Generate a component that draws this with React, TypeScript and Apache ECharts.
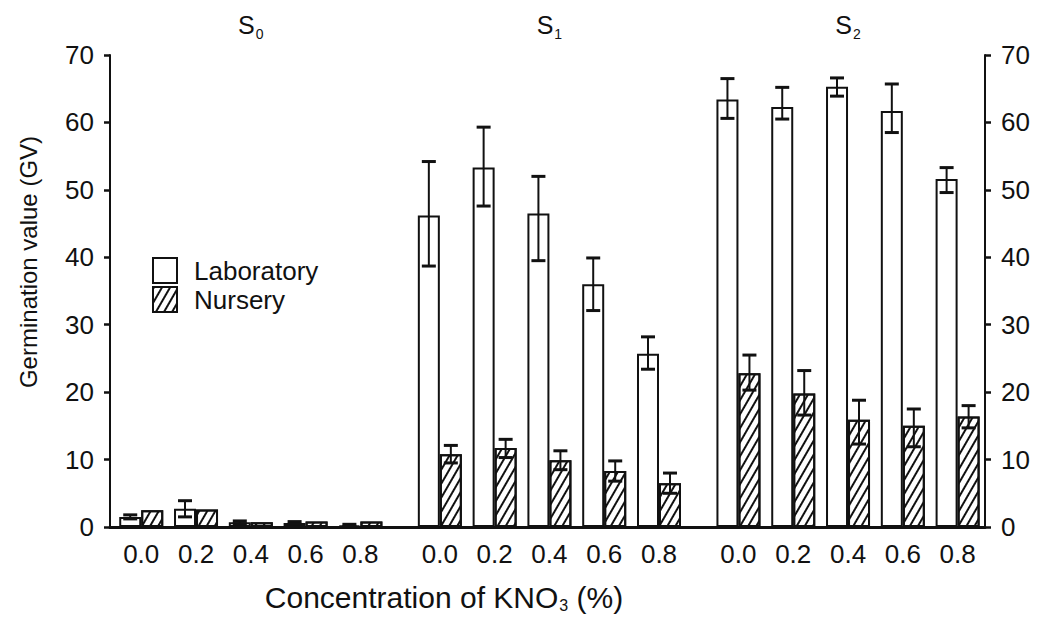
import React, { useEffect, useRef } from "react";
import * as echarts from "echarts";

// ---- data ----
const concentrations = ["0.0", "0.2", "0.4", "0.6", "0.8"];
const sowings = ["0", "1", "2"]; // S0, S1, S2 subscripts

const labMean = [1.5, 2.7, 0.7, 0.6, 0.25, 46.2, 53.3, 46.5, 36.0, 25.7, 63.4, 62.3, 65.3, 61.7, 51.6];
const labLow = [1.2, 1.5, 0.5, 0.4, 0.1, 38.7, 47.6, 39.5, 32.1, 23.4, 60.6, 60.5, 63.9, 58.5, 49.6];
const labHigh = [1.8, 3.9, 0.9, 0.8, 0.4, 54.2, 59.3, 52.0, 39.9, 28.2, 66.5, 65.2, 66.6, 65.7, 53.3];

const nurMean = [2.5, 2.6, 0.7, 0.8, 0.8, 10.8, 11.7, 9.9, 8.3, 6.5, 22.8, 19.8, 15.9, 15.0, 16.4];
const nurLow = [2.5, 2.6, 0.7, 0.8, 0.8, 9.5, 10.3, 8.5, 6.8, 5.0, 20.3, 16.6, 12.3, 11.9, 14.7];
const nurHigh = [2.5, 2.6, 0.7, 0.8, 0.8, 12.1, 13.0, 11.3, 9.8, 8.0, 25.5, 23.2, 18.8, 17.5, 18.0];

// ---- layout helpers (positions on the x value scale) ----
const GROUP_STEP = 5.45; // slots between the starts of successive sowing groups
const pos: number[] = [];
const posLabel: Record<string, string> = {};
sowings.forEach((_, g) => {
  concentrations.forEach((c, i) => {
    const p = +(g * GROUP_STEP + i).toFixed(3);
    pos.push(p);
    posLabel[p.toFixed(3)] = c;
  });
});
const groupCenters = sowings.map((_, g) => +(g * GROUP_STEP + 2).toFixed(3));
const groupLabel: Record<string, string> = {};
groupCenters.forEach((p, g) => (groupLabel[p.toFixed(3)] = sowings[g]));

const FONT = "'Liberation Sans', Arial, Helvetica, sans-serif";
const INK = "#111";
const BAR_W = 22;
const X_MIN = -0.57;
const X_MAX = 15.4;

export default function App() {
  const ref = useRef<HTMLDivElement>(null);
  useEffect(() => {
    if (!ref.current) return;
    const chart = echarts.init(ref.current, undefined, { renderer: "svg" });

    const errData: number[][] = [];
    pos.forEach((p, k) => {
      if (labHigh[k] > labLow[k]) errData.push([p, labLow[k], labHigh[k], -1]);
      if (nurHigh[k] > nurLow[k]) errData.push([p, nurLow[k], nurHigh[k], 1]);
    });

    const yAxisCommon = {
      type: "value" as const,
      min: 0,
      max: 70,
      interval: 10,
      splitLine: { show: false },
      axisLine: { show: true, onZero: false, lineStyle: { color: INK, width: 2 } },
      axisTick: { show: true, inside: false, length: 6, lineStyle: { color: INK, width: 2.5 } },
      axisLabel: { color: INK, fontSize: 26, fontFamily: FONT, margin: 16 },
    };

    const option: any = {
      animation: false,
      backgroundColor: "#fff",
      textStyle: { fontFamily: FONT },
      grid: { left: 110, right: 63, top: 55, bottom: 101, containLabel: false },
      title: {
        text: "Concentration of KNO{sub|3} (%)",
        left: 439,
        top: 576,
        textAlign: "center",
        textStyle: {
          color: INK,
          fontSize: 30,
          fontWeight: "normal",
          fontFamily: FONT,
          rich: {
            sub: { fontSize: 16, fontFamily: FONT, color: INK, verticalAlign: "bottom", padding: [16, 0, 0, 1] },
          },
        },
      },
      legend: {
        orient: "vertical",
        left: 147,
        top: 252,
        itemWidth: 24,
        itemHeight: 25,
        itemGap: 2,
        icon: "rect",
        textStyle: { color: INK, fontSize: 26, lineHeight: 25, fontFamily: FONT, padding: [0, 0, 0, 12] },
        data: ["Laboratory", "Nursery"],
      },
      xAxis: [
        {
          type: "value",
          position: "bottom",
          min: X_MIN,
          max: X_MAX,
          splitLine: { show: false },
          axisLine: { show: true, onZero: false, lineStyle: { color: INK, width: 3 } },
          axisTick: { show: false },
          axisLabel: {
            customValues: pos,
            color: INK,
            fontSize: 26,
            fontFamily: FONT,
            margin: 14,
            formatter: (v: number) => posLabel[(+v).toFixed(3)] ?? "",
          },
        },
        {
          type: "value",
          position: "top",
          min: X_MIN,
          max: X_MAX,
          splitLine: { show: false },
          axisLine: { show: false },
          axisTick: { show: false },
          axisLabel: {
            customValues: groupCenters,
            margin: 14,
            formatter: (v: number) => `{s|S}{sub|${groupLabel[(+v).toFixed(3)] ?? ""}}`,
            rich: {
              s: { fontSize: 25, fontFamily: FONT, color: INK },
              sub: { fontSize: 14, fontFamily: FONT, color: INK, verticalAlign: "bottom", padding: [18, 0, 0, 1] },
            },
          },
        },
      ],
      yAxis: [
        {
          ...yAxisCommon,
          position: "left",
          name: "Germination value (GV)",
          nameLocation: "middle",
          nameGap: 70,
          nameTextStyle: { color: INK, fontSize: 24, fontFamily: FONT, padding: [0, 0, 0, 58] },
        },
        { ...yAxisCommon, position: "right" },
      ],
      series: [
        {
          name: "Laboratory",
          type: "bar",
          xAxisIndex: 0,
          yAxisIndex: 0,
          barWidth: BAR_W,
          barGap: "0%",
          itemStyle: { color: "#fff", borderColor: INK, borderWidth: 2 },
          data: pos.map((p, k) => [p, labMean[k]]),
        },
        {
          name: "Nursery",
          type: "bar",
          xAxisIndex: 0,
          yAxisIndex: 0,
          barWidth: BAR_W,
          barGap: "0%",
          itemStyle: {
            color: "#fff",
            borderColor: INK,
            borderWidth: 2,
            decal: {
              symbol: "rect",
              symbolSize: 1,
              color: INK,
              backgroundColor: "#fff",
              dashArrayX: [1, 0],
              dashArrayY: [2, 5],
              rotation: -Math.PI / 3,
            },
          },
          data: pos.map((p, k) => [p, nurMean[k]]),
        },
        {
          name: "error",
          type: "custom",
          xAxisIndex: 0,
          yAxisIndex: 0,
          z: 5,
          silent: true,
          data: errData,
          encode: { x: 0, y: [1, 2] },
          renderItem: (params: any, api: any) => {
            const x = api.value(0);
            const side = api.value(3);
            const lo = api.coord([x, api.value(1)]);
            const hi = api.coord([x, api.value(2)]);
            const cx = lo[0] + (side * BAR_W) / 2;
            const cap = 7;
            const style = { stroke: INK, lineWidth: 2 };
            return {
              type: "group",
              children: [
                { type: "line", shape: { x1: cx, y1: lo[1], x2: cx, y2: hi[1] }, style },
                { type: "line", shape: { x1: cx - cap, y1: hi[1], x2: cx + cap, y2: hi[1] }, style: { stroke: INK, lineWidth: 3 } },
                { type: "line", shape: { x1: cx - cap, y1: lo[1], x2: cx + cap, y2: lo[1] }, style: { stroke: INK, lineWidth: 3 } },
              ],
            };
          },
        },
      ],
    };
    chart.setOption(option);
    return () => chart.dispose();
  }, []);

  return <div ref={ref} style={{ width: 1048, height: 628, position: "absolute", left: 0, top: 0 }} />;
}
